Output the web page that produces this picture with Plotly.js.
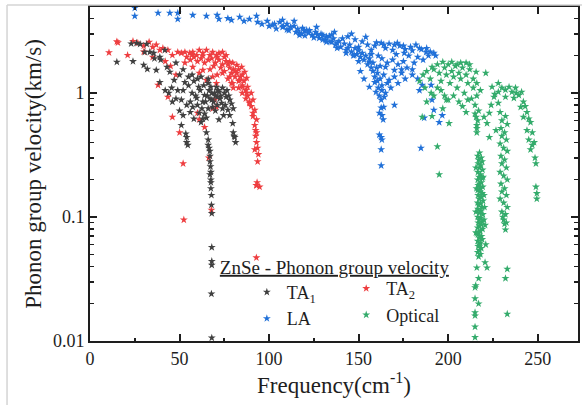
<!DOCTYPE html>
<html>
<head>
<meta charset="utf-8">
<script src="https://cdn.plot.ly/plotly-3.0.1.min.js"></script>
<style>html,body{margin:0;padding:0;background:#fff;}#chart{width:582px;height:405px;}</style>
</head>
<body>
<div id="chart"></div>
<script>
// ---- data (frequency in cm^-1, group velocity in km/s) ----
const seriesNames = ['TA<sub>1</sub>', 'TA<sub>2</sub>', 'LA', 'Optical'];
const legendTitle = 'ZnSe - Phonon group velocity';
const xTickVals = [0, 50, 100, 150, 200, 250];
const yTickVals = [0.01, 0.1, 1];
const yTickText = ['0.01', '0.1', '1'];

const ta1Freq = [15,24,23,26,28,31.7,30,30.6,32,33.4,
35.6,37,39,39.5,39,41.8,43,44.6,45.6,47,
50,48,52,36,51,52,53,52,51,54,
54.6,57,57.4,59.6,60.7,61,62,63,64,65,
66,65,66,66.5,68,68.5,69.6,70.6,71,72,
73.5,74,76,78,77,78,79.7,80.8,81.3,72,
74.6,55,56,58,59,60,61.5,62.5,63.5,64.5,
65.5,66,67,67.5,68,69,70,70,71.5,72.5,
73,75,75.5,76.5,77.5,79,80,62,63,58,
56,54,49,48,50,46,44,42,57,60,
55,66,71,74,64,66.9,67,67,67.3,67.5,
67.5,67.5,67.8,67.8,68,68,68,68,67.8,68,
66,66.5,67,67.5,54,80,80.5,53.5];
const ta1Vel = [1.78,1.8,2.5,2.53,2.48,2.48,1.68,2.14,1.56,2.14,
2.1,1.53,1.95,1.85,1.22,2.22,1.62,1.48,1.1,1.27,
1.4,1.75,1.55,1.9,0.88,1.05,1.22,0.66,0.55,0.44,
0.38,1.0,0.77,0.91,1.12,0.69,1.35,0.85,0.96,0.48,
0.42,0.63,1.2,1.05,0.88,0.77,1.0,1.12,0.93,1.02,
0.83,1.1,0.93,0.88,0.73,0.66,0.57,0.44,0.40,0.61,
0.66,1.15,0.85,1.25,0.95,0.8,1.05,0.75,1.15,0.85,
0.95,0.75,0.9,1.12,1.0,0.85,0.95,0.72,1.05,0.9,
0.95,1.0,0.8,1.05,0.95,0.82,0.75,0.58,0.62,0.62,
0.7,0.8,1.05,0.9,0.72,0.85,1.0,1.05,1.4,1.3,
1.35,1.3,0.8,0.75,0.68,0.34,0.31,0.28,0.255,0.23,
0.2,0.19,0.15,0.125,0.107,0.057,0.044,0.041,0.024,0.0106,
0.38,0.36,0.22,0.17,0.4,0.48,0.45,0.47];

const ta2Freq = [10.6,15,15.6,21,24,26.7,30,33,35,37,
39,40.7,43.5,46,49,51,53,54,55.7,57.4,
59.6,61,63,65,67,68.5,70.6,72,74,76,
78,79.7,82,84.7,86.4,87.5,88,90,91,92,
93,93,93,94,93.6,93,94.7,56,58,60,
62,64,66,68,70,72,74,76,78,80,
82,84,86,88,89,90,91,92,92.5,92.5,
93.5,92,63,57,71,75,77,79,81,83,
85,87,81,83,85,73,75,69,67,71,
77,79,80,85,87,83,38,43.5,46,50,
52,53,57.4,61,63,65,68.5,70.6,69.6,70.6,
68.5,74,78,79.7,83.6,85.3,87.5,89,91,61,
60,64,48,45,42,35,30,52.4,66.3,67.8,
92.9,93.3,92.9];
const ta2Vel = [2.12,2.6,2.55,2.02,2.62,2.53,2.4,2.58,2.35,2.45,
2.22,2.3,2.22,2.02,2.14,2.1,2.14,1.95,2.1,2.14,
2.02,2.22,2.1,2.22,2.02,2.14,2.02,2.1,2.14,2.02,
1.78,1.75,1.68,1.62,1.48,1.32,1.12,1.0,0.88,0.73,
0.61,0.48,0.40,0.32,0.28,0.18,0.175,1.85,1.95,1.8,
1.9,1.75,1.85,1.9,1.75,1.85,1.7,1.8,1.6,1.55,
1.45,1.35,1.25,0.95,0.85,0.78,0.65,0.55,0.5,0.45,
0.36,0.35,2.0,2.05,1.95,1.95,1.7,1.45,1.35,1.25,
1.15,1.05,1.5,1.55,1.4,1.6,1.5,1.65,1.55,1.4,
1.3,1.2,1.1,1.0,0.9,1.1,1.16,0.93,0.64,0.48,
0.27,1.75,1.62,1.45,1.53,1.27,1.35,1.2,0.88,0.77,
0.75,1.45,1.35,1.2,1.27,1.12,1.0,0.83,0.69,0.61,
0.69,0.53,1.4,1.65,1.8,1.95,2.15,0.095,0.30,0.114,
0.18,0.19,0.047];

const laFreq = [25,25,38,44.6,49,49,57.4,65,71,72,
77,79,83.6,86,89,93,93.6,96,99,100,
103,106,107.5,110,111,114,116,117,118.7,119.8,
122.5,124,126,128,129,131.5,133.7,135,107.5,114,
117,121,126.5,130,132,136.5,138,143,146,147.6,
150,154,156,157,159,160.5,162.6,163,165,167,
169,170,171.6,174,175.5,179,180,184,185.5,187.7,
192,161.6,162.6,163.7,162.6,162.6,162.6,164,162.6,170,
163,163,161.6,184.8,186.6,195,192,196.7,191,190.5,
102,104,108,110,112,115,118,120,122,125,
127,130,132,134,136,137,139,140,142,144,
145,146,148,149,150,151,152,153,154,155,
156,157,158,158,159,160,160.5,161,161.5,162,
163,164,165,166,168,157,159,161,163,165,
166,167,169,171,172,173,175,176,177,178,
180,181,182,183,185,186,188,189,190,193,
152,148,144,155,160,164,170,175,150,147,
143,138,141,135,162,170,172,176,174,180,
183,184,156,159.7,164.3,153,151];
const laVel = [4.85,4.18,4.42,4.42,4.42,3.95,4.25,4.18,4.25,3.95,
4.0,3.88,4.1,3.8,3.95,4.18,3.73,3.6,3.8,3.47,
3.6,3.73,3.4,3.6,3.2,3.47,3.28,3.05,3.34,3.16,
3.2,2.93,3.1,2.77,2.99,2.67,2.88,2.58,3.88,3.8,
2.93,3.22,3.4,2.93,2.58,3.1,2.53,2.22,3.0,2.02,
2.35,2.83,1.78,2.22,1.22,1.45,2.53,1.05,1.62,1.27,
2.22,1.53,2.53,1.45,2.1,2.35,1.40,2.3,1.16,2.14,
2.1,0.69,0.76,0.61,0.44,0.35,0.26,0.77,0.88,0.8,
0.66,0.42,0.46,0.36,0.63,0.58,0.73,0.66,0.88,1.16,
3.55,3.3,3.45,3.25,3.4,3.1,3.0,2.9,3.05,2.8,
2.95,2.7,2.85,2.6,2.75,2.45,2.62,2.35,2.5,2.3,
2.45,2.15,2.3,2.05,2.2,1.95,2.1,1.85,2.0,1.7,
1.9,1.6,1.75,1.5,1.35,1.6,1.25,1.1,0.95,1.3,
1.15,1.4,1.0,1.2,1.1,2.05,2.4,2.0,1.9,2.3,
1.75,2.5,1.85,2.05,1.7,2.4,1.8,2.25,1.6,2.0,
2.2,1.75,2.45,1.95,2.25,1.85,2.3,2.0,2.15,2.0,
2.6,2.7,2.85,2.45,2.55,2.45,2.45,2.4,1.8,2.0,
2.1,2.3,2.75,2.95,1.65,1.35,1.2,1.3,1.55,1.55,
1.3,1.05,1.12,1.02,0.93,1.3,1.5];

const optFreq = [191,197,202,210,215.6,221,186,188,190,192,
194,195,196,198,199,200,201,202,203,204,
205,206,207,208,209,210,211,212,213,214,
214,215,216,216,217,218,205,207,212,196,
198,200,194,192,190.5,188,185.5,194,195,200.5,
199,197,203,206,208,210,211,215.6,216,216,
216.5,216,215,191,184,187,
217.5,216.5,218.5,217,219,216.8,218.2,217.5,219.2,216.6,
218,217.2,219,216.5,218.5,217.5,216.8,219.3,218,216.5,
217.8,219,216.7,218.4,217.3,219.5,216.5,218,217,219,
216.6,218.3,217.4,219.4,216.5,218,217.2,219,216.8,218.5,
217.5,216.5,219.2,218,217,216.6,218.6,217.4,219,216.5,
218,217.2,216.8,218.5,217.5,216.5,218,217,219.5,220,
220.3,215.5,215.8,215.5,220,215.5,
216,221.7,217,215.4,215,215,217,215,215,215,
215,216,220.6,221,220.6,
223,224,225.6,228,232,235.6,239.5,242,244,246,
247,248,248.5,249,249,249.5,249.5,228,232,236.7,
240.5,242,244,245,246,234,237.6,241,220,221.7,
223,226.7,224.5,228,230,226,238,243,245,247,
229,232,230,233,229.5,231.5,230,232.5,229,231,
233,229.5,231.5,230,232.5,229,231,233,229.5,231.5,
230,232.5,229,231,233,230,232,230.5,
231,232,233,232,233,231.5,232.5];
const optVel = [1.62,1.78,1.78,1.75,1.48,1.45,1.4,1.5,1.3,1.55,
1.7,1.45,1.25,1.6,1.4,1.7,1.2,1.5,1.35,1.65,
1.1,1.45,1.3,1.6,1.0,1.4,1.2,1.55,0.9,1.3,
1.1,0.8,1.2,0.95,0.72,1.05,1.7,1.75,1.7,1.05,
0.95,0.88,1.1,0.95,1.0,0.85,0.64,0.37,0.22,0.57,
0.88,0.75,0.95,0.85,0.78,0.7,0.88,0.64,0.55,0.48,
0.6,0.52,0.68,0.65,1.25,1.1,
0.33,0.31,0.3,0.29,0.28,0.27,0.26,0.25,0.24,0.23,
0.22,0.21,0.205,0.2,0.19,0.185,0.18,0.175,0.17,0.165,
0.16,0.155,0.15,0.145,0.14,0.135,0.13,0.128,0.125,0.12,
0.116,0.112,0.108,0.105,0.1,0.098,0.095,0.092,0.09,0.087,
0.085,0.082,0.08,0.077,0.075,0.072,0.07,0.068,0.066,0.064,
0.062,0.06,0.058,0.056,0.054,0.052,0.05,0.048,0.21,0.15,
0.12,0.25,0.17,0.11,0.095,0.075,
0.039,0.039,0.032,0.028,0.027,0.022,0.02,0.017,0.016,0.013,
0.0107,0.074,0.086,0.06,0.043,
0.69,0.8,0.93,1.02,1.06,1.02,0.96,0.85,0.70,0.58,
0.48,0.40,0.30,0.27,0.175,0.155,0.14,0.83,0.93,0.91,
0.77,0.64,0.50,0.42,0.35,1.12,1.1,1.02,0.64,0.57,
0.44,0.50,1.12,1.2,1.1,0.98,1.0,0.78,0.62,0.38,
0.7,0.65,0.6,0.56,0.52,0.48,0.45,0.42,0.39,0.36,
0.34,0.31,0.29,0.27,0.25,0.23,0.215,0.2,0.185,0.17,
0.16,0.15,0.14,0.13,0.12,0.11,0.105,0.1,
0.095,0.079,0.038,0.032,0.0165,0.088,0.09];

const colors = {ta1: '#404040', ta2: '#ee3e40', la: '#2070d8', opt: '#33ab6b'};

function starTrace(x, y, name, color, legend) {
  return {
    type: 'scatter', mode: 'markers', x: x, y: y, name: name, legend: legend,
    marker: {symbol: 'star', size: 6, color: color, line: {width: 0}},
    hoverinfo: 'x+y+name'
  };
}

const traces = [
  starTrace(ta2Freq, ta2Vel, seriesNames[1], colors.ta2, 'legend2'),
  starTrace(ta1Freq, ta1Vel, seriesNames[0], colors.ta1, 'legend'),
  starTrace(laFreq, laVel, seriesNames[2], colors.la, 'legend'),
  starTrace(optFreq, optVel, seriesNames[3], colors.opt, 'legend2')
];

const serif = 'Times New Roman, Liberation Serif, DejaVu Serif, serif';
const ink = '#1e1e1e';

const layout = {
  width: 582, height: 405,
  margin: {l: 90, r: 4, t: 7, b: 64, pad: 0},
  paper_bgcolor: '#ffffff', plot_bgcolor: '#ffffff',
  font: {family: serif, color: ink, size: 18},
  showlegend: true,
  xaxis: {
    range: [0, 272.5], tickmode: 'array', tickvals: xTickVals,
    showline: true, linewidth: 2, linecolor: ink, mirror: 'allticks',
    ticks: 'inside', ticklen: 7, tickwidth: 2, tickcolor: ink,
    showgrid: false, zeroline: false,
    tickfont: {family: serif, size: 18, color: ink},
    minor: {ticks: 'inside', ticklen: 3, tickwidth: 2, tickcolor: ink, dtick: 25, tick0: 0, showgrid: false},
    title: {text: 'Frequency(cm<sup>-1</sup>)', font: {family: serif, size: 23, color: ink}, standoff: 9}
  },
  yaxis: {
    type: 'log', range: [-2, 0.694], tickmode: 'array', tickvals: yTickVals, ticktext: yTickText,
    showline: true, linewidth: 2, linecolor: ink, mirror: 'allticks',
    ticks: 'inside', ticklen: 7, tickwidth: 2, tickcolor: ink,
    showgrid: false, zeroline: false,
    tickfont: {family: serif, size: 18, color: ink},
    minor: {ticks: 'inside', ticklen: 4, tickwidth: 1.5, tickcolor: ink, dtick: 'D1', showgrid: false},
    title: {text: 'Phonon group velocity(km/s)', font: {family: serif, size: 23, color: ink}, standoff: 5}
  },
  legend: {
    x: 0.262, y: 0.275, xanchor: 'left', yanchor: 'top',
    bgcolor: 'rgba(0,0,0,0)', borderwidth: 0,
    font: {family: serif, size: 18, color: ink},
    title: {text: '<u>' + legendTitle + '</u>', font: {family: serif, size: 19, color: ink}, side: 'top'},
    indentation: 29, itemwidth: 30, tracegroupgap: 0
  },
  legend2: {
    x: 0.525, y: 0.212, xanchor: 'left', yanchor: 'top',
    bgcolor: 'rgba(0,0,0,0)', borderwidth: 0,
    font: {family: serif, size: 18, color: ink},
    itemwidth: 30, tracegroupgap: 0
  },
  shapes: [
    {type: 'line', xref: 'paper', yref: 'paper', x0: -0.170, x1: -0.170, y0: 1.006, y1: -0.2, line: {color: '#d4d4d4', width: 1.5}},
    {type: 'line', xref: 'paper', yref: 'paper', x0: -0.170, x1: 1.01, y0: 1.006, y1: 1.006, line: {color: '#d4d4d4', width: 1.5}}
  ]
};

Plotly.newPlot('chart', traces, layout, {displayModeBar: false, staticPlot: true});
</script>
</body>
</html>
